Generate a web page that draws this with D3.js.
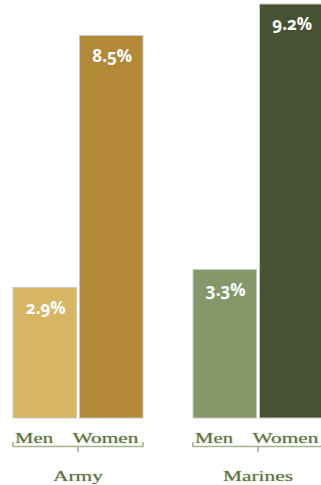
<!DOCTYPE html>
<html>
<head>
<meta charset="utf-8">
<script src="https://cdn.jsdelivr.net/npm/d3@7"></script>
<style>
    body { margin: 0; background: #fff; }
    #chart { width: 321px; height: 485px; }
    .valueLabel { font-family: "Open Sans", sans-serif; font-weight: 700; font-size: 17px; fill: #fff; font-variant-numeric: oldstyle-nums; }
    .catLabel, .groupLabel { font-family: "Liberation Serif", serif; font-size: 15px; fill: #5c7040; text-shadow: 0 0 1.5px #a9b592; }
</style>
</head>
<body>
<div id="chart"></div>
<script>
// data
const groups = ["Army", "Marines"];
const genders = ["Men", "Women"];
const menValues = [2.9, 3.3];
const womenValues = [8.5, 9.2];
const valueLabels = [["2.9%", "8.5%"], ["3.3%", "9.2%"]];

/*
SETTING UP THE SVG CANVAS
*/
const width = 321;
const height = 485;

const svg = d3.select("#chart")
    .append("svg")
    .attr("width", width)
    .attr("height", height);

const colors = {
    Army: { Men: "#d6b565", Women: "#b38937" },
    Marines: { Men: "#84986a", Women: "#485232" }
};

const data = [];
groups.forEach(function (g, i) {
    data.push({ group: g, gender: "Men", value: menValues[i], label: valueLabels[i][0] });
    data.push({ group: g, gender: "Women", value: womenValues[i], label: valueLabels[i][1] });
});

/*
DEFINE SCALES
*/
const xGroup = d3.scaleBand()
    .domain(groups)
    .range([13, 323])
    .paddingInner(50 / 180)
    .paddingOuter(0);

const xInner = d3.scaleBand()
    .domain(genders)
    .range([0, xGroup.bandwidth()])
    .paddingInner(3 / 66.5)
    .paddingOuter(0);

const yScale = d3.scaleLinear()
    .domain([0, 9.2])
    .range([418, 4]);

// cut-off title remnant at top
svg.append("text")
    .attr("x", 66)
    .attr("y", -6)
    .attr("font-family", "Liberation Serif, serif")
    .attr("font-size", 26)
    .attr("fill", "#5c7040")
    .text("g");

/*
DRAW THE BARS
*/
const bars = svg.selectAll(".bar")
    .data(data)
    .enter()
    .append("g")
    .attr("class", "bar")
    .attr("transform", d => `translate(${xGroup(d.group) + xInner(d.gender)},0)`);

bars.append("rect")
    .attr("x", 0)
    .attr("y", d => yScale(d.value))
    .attr("width", xInner.bandwidth())
    .attr("height", d => yScale(0) - yScale(d.value))
    .attr("fill", d => colors[d.group][d.gender])
    .attr("stroke", "#c9c9c4")
    .attr("stroke-width", 1);

bars.append("text")
    .attr("class", "valueLabel")
    .attr("x", xInner.bandwidth() / 2 + 1)
    .attr("y", d => yScale(d.value) + 26)
    .attr("text-anchor", "middle")
    .text(d => d.label);

/*
CATEGORY LABELS AND BRACKETS
*/
const groupG = svg.selectAll(".grp")
    .data(groups)
    .enter()
    .append("g")
    .attr("class", "grp")
    .attr("transform", d => `translate(${xGroup(d)},0)`);

groupG.append("text")
    .attr("class", "catLabel")
    .attr("x", xInner("Men") + 2)
    .attr("y", 443)
    .attr("textLength", 38)
    .attr("lengthAdjust", "spacingAndGlyphs")
    .text("Men");

groupG.append("text")
    .attr("class", "catLabel")
    .attr("x", xInner("Women") - 7)
    .attr("y", 443)
    .attr("textLength", 66)
    .attr("lengthAdjust", "spacingAndGlyphs")
    .text("Women");

const bw = xGroup.bandwidth();
groupG.append("path")
    .attr("d", `M0,442V446.5H${bw}V442M${bw / 2},446.5V452`)
    .attr("fill", "none")
    .attr("stroke", "#a8b38e")
    .attr("stroke-width", 1.6);

groupG.append("text")
    .attr("class", "groupLabel")
    .attr("x", bw / 2)
    .attr("y", 481)
    .attr("text-anchor", "middle")
    .attr("textLength", d => d == "Army" ? 50 : 70)
    .attr("lengthAdjust", "spacingAndGlyphs")
    .text(d => d);
</script>
</body>
</html>
